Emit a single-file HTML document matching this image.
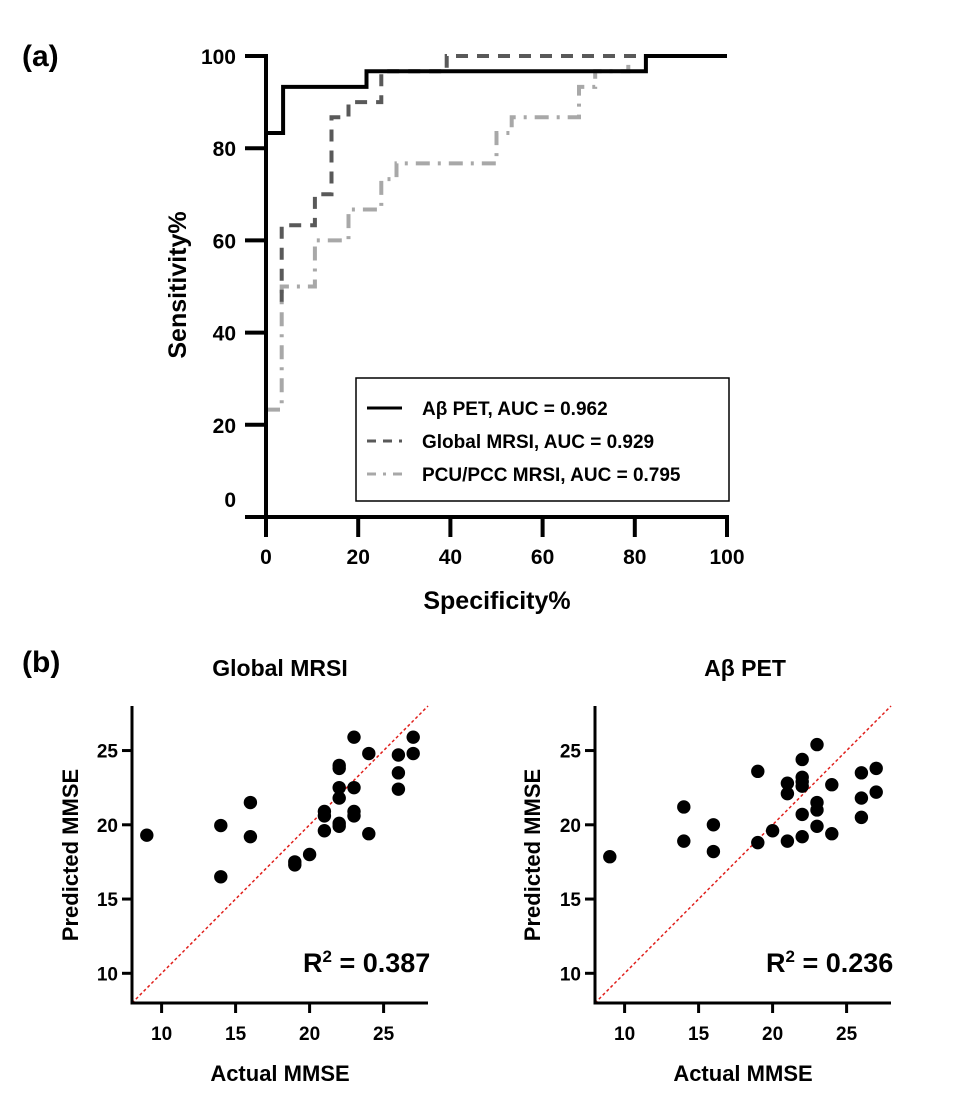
<!DOCTYPE html>
<html><head><meta charset="utf-8">
<style>
html,body{margin:0;padding:0;background:#fff;}
svg{display:block;font-family:"Liberation Sans",Arial,sans-serif;font-weight:bold;}
</style></head>
<body>
<svg id="fig" width="960" height="1106" viewBox="0 0 960 1106" xmlns="http://www.w3.org/2000/svg">
<text x="22" y="66" font-size="30">(a)</text>
<text x="22" y="672" font-size="30">(b)</text>
<g id="roc"></g>
<g id="sc1"></g>
<g id="sc2"></g>
</svg>
<script>
// ROC data
const rocTicks = [0,20,40,60,80,100];
const petSpec = [0,3.7,3.7,21.8,21.8,82.4,82.4,100];
const petSens = [83.3,83.3,93.3,93.3,96.7,96.7,100,100];
const globalSpec = [3.4,3.4,10.6,10.6,14.2,14.2,17.9,17.9,25,25,39.2,39.2,82.6];
const globalSens = [46.7,63.3,63.3,70,70,86.7,86.7,90,90,96.7,96.7,100,100];
const pcuSpec = [0,3.4,3.4,10.6,10.6,17.9,17.9,25,25,28.3,28.3,50,50,53.3,53.3,67.9,67.9,71.4,71.4,78.6,78.6];
const pcuSens = [23.3,23.3,50,50,60,60,66.7,66.7,73.3,73.3,76.7,76.7,83.3,83.3,86.7,86.7,93.3,93.3,96.7,96.7,100];
const legendLabels = ["A\u03b2 PET, AUC = 0.962","Global MRSI, AUC = 0.929","PCU/PCC MRSI, AUC = 0.795"];

// Scatter data
const scTicks = [10,15,20,25];
const globalActual = [9,14,14,16,16,19,19,20,21,21,21,22,22,22,22,22,22,23,23,23,23,24,24,26,26,26,27,27];
const globalPred = [19.3,19.95,16.5,21.5,19.2,17.5,17.3,18.0,20.9,20.6,19.6,24.0,23.8,22.5,21.8,20.1,19.9,25.9,22.5,20.9,20.6,24.8,19.4,24.7,23.5,22.4,25.9,24.8];
const petActual = [9,14,14,16,16,19,19,20,21,21,21,22,22,22,22,22,22,23,23,23,23,24,24,26,26,26,27,27];
const petPred = [17.85,21.2,18.9,20.0,18.2,23.6,18.8,19.6,22.8,22.1,18.9,24.4,23.2,22.9,22.6,20.7,19.2,25.4,21.5,21.0,19.9,22.7,19.4,23.5,21.8,20.5,23.8,22.2];

const NS="http://www.w3.org/2000/svg";
function mk(parent,tag,attrs){const e=document.createElementNS(NS,tag);for(const k in attrs)e.setAttribute(k,attrs[k]);parent.appendChild(e);return e;}

// ---- ROC ----
(function(){
const g=document.getElementById('roc');
const x0=266,x1=727,y0=517,y1=56;
const sx=v=>x0+(x1-x0)*v/100, sy=v=>y0-(y0-y1)*v/100;
function step(xs,ys,name,style){
  let d='';xs.forEach((v,i)=>{d+=(i?'L':'M')+sx(v).toFixed(1)+','+sy(ys[i]).toFixed(1);});
  const p=mk(g,'path',Object.assign({d:d,fill:'none','stroke-linejoin':'miter'},style));
  
  
}
step(pcuSpec,pcuSens,'pcu-pcc-mrsi-curve',{stroke:'#a8a8a8','stroke-width':4,'stroke-dasharray':'14 8 3 8'});
step(globalSpec,globalSens,'global-mrsi-curve',{stroke:'#595959','stroke-width':4,'stroke-dasharray':'12 9'});
step(petSpec,petSens,'abeta-pet-curve',{stroke:'#000','stroke-width':4});
const ya=mk(g,'line',{x1:x0,y1:y1-2,x2:x0,y2:y0+2,stroke:'#000','stroke-width':4});


const xa=mk(g,'line',{x1:245,y1:y0,x2:x1+2,y2:y0,stroke:'#000','stroke-width':4});


rocTicks.forEach(t=>{
  if(t>0){mk(g,'line',{x1:245,y1:sy(t),x2:x0,y2:sy(t),stroke:'#000','stroke-width':4});}
  const yl=mk(g,'text',{x:236,y:(t===0?507:sy(t)+8),'font-size':21,'text-anchor':'end'});
  yl.textContent=t;
  
  
  mk(g,'line',{x1:sx(t),y1:y0,x2:sx(t),y2:537,stroke:'#000','stroke-width':4});
  const xl=mk(g,'text',{x:sx(t),y:564,'font-size':21,'text-anchor':'middle'});
  xl.textContent=t;
  
  
});
const xt=mk(g,'text',{x:497,y:609,'font-size':25,'text-anchor':'middle'});
xt.textContent='Specificity%';


const yt=mk(g,'text',{x:0,y:0,'font-size':25,'text-anchor':'middle',transform:'translate(186,285) rotate(-90)'});
yt.textContent='Sensitivity%';


const lg=mk(g,'g',{});


mk(lg,'rect',{x:356,y:378,width:373,height:123,fill:'#fff',stroke:'#000','stroke-width':1.5});
const styles=[{stroke:'#000'},{stroke:'#595959','stroke-dasharray':'9 7'},{stroke:'#a8a8a8','stroke-dasharray':'9 7 3 7'}];
legendLabels.forEach((lab,i)=>{
  const yy=408+i*33;
  mk(lg,'line',Object.assign({x1:367,y1:yy,x2:402,y2:yy,'stroke-width':3},styles[i]));
  const t=mk(lg,'text',{x:422,y:yy+7,'font-size':19});
  t.textContent=lab;
  
  
});
})();

// ---- Scatter ----
function scatter(id,xa0,xs,ys,title,titleX,r2,r2x,ylabX){
const g=document.getElementById(id);
const top=706,bot=1003,x1=xa0+296;
const sx=v=>xa0+(v-8)*(x1-xa0)/20, sy=v=>bot-(v-8)*(bot-top)/20;
const dl=mk(g,'line',{x1:sx(8),y1:sy(8),x2:sx(28),y2:sy(28),stroke:'#e0201c','stroke-width':1.5,'stroke-dasharray':'3 2.5'});


xs.forEach((v,i)=>{
  const c=mk(g,'circle',{cx:sx(v),cy:sy(ys[i]),r:6.7,fill:'#000'});
  
  
});
const ya=mk(g,'line',{x1:xa0,y1:top,x2:xa0,y2:bot+1.5,stroke:'#000','stroke-width':3});


const xa=mk(g,'line',{x1:xa0-1.5,y1:bot,x2:x1,y2:bot,stroke:'#000','stroke-width':3});


scTicks.forEach(t=>{
  mk(g,'line',{x1:xa0-10,y1:sy(t),x2:xa0,y2:sy(t),stroke:'#000','stroke-width':3});
  const yl=mk(g,'text',{x:xa0-14,y:sy(t)+7,'font-size':19,'text-anchor':'end'});
  yl.textContent=t;
  
  
  mk(g,'line',{x1:sx(t),y1:bot,x2:sx(t),y2:bot+10,stroke:'#000','stroke-width':3});
  const xl=mk(g,'text',{x:sx(t),y:bot+37,'font-size':19,'text-anchor':'middle'});
  xl.textContent=t;
  
  
});
const tt=mk(g,'text',{x:titleX,y:676,'font-size':23,'text-anchor':'middle'});
tt.textContent=title;


const xt=mk(g,'text',{x:(xa0+x1)/2,y:1081,'font-size':22,'text-anchor':'middle'});
xt.textContent='Actual MMSE';


const yt=mk(g,'text',{x:0,y:0,'font-size':22,'text-anchor':'middle',transform:'translate('+ylabX+',855) rotate(-90)'});
yt.textContent='Predicted MMSE';


const rt=mk(g,'text',{x:r2x,y:972,'font-size':27});
rt.innerHTML='R<tspan font-size="17" dy="-10">2</tspan><tspan dy="10"> = '+r2+'</tspan>';


}
scatter('sc1',132,globalActual,globalPred,'Global MRSI',280,'0.387',303,78);
scatter('sc2',595,petActual,petPred,'A\u03b2 PET',745,'0.236',766,540);
</script>
</body></html>
